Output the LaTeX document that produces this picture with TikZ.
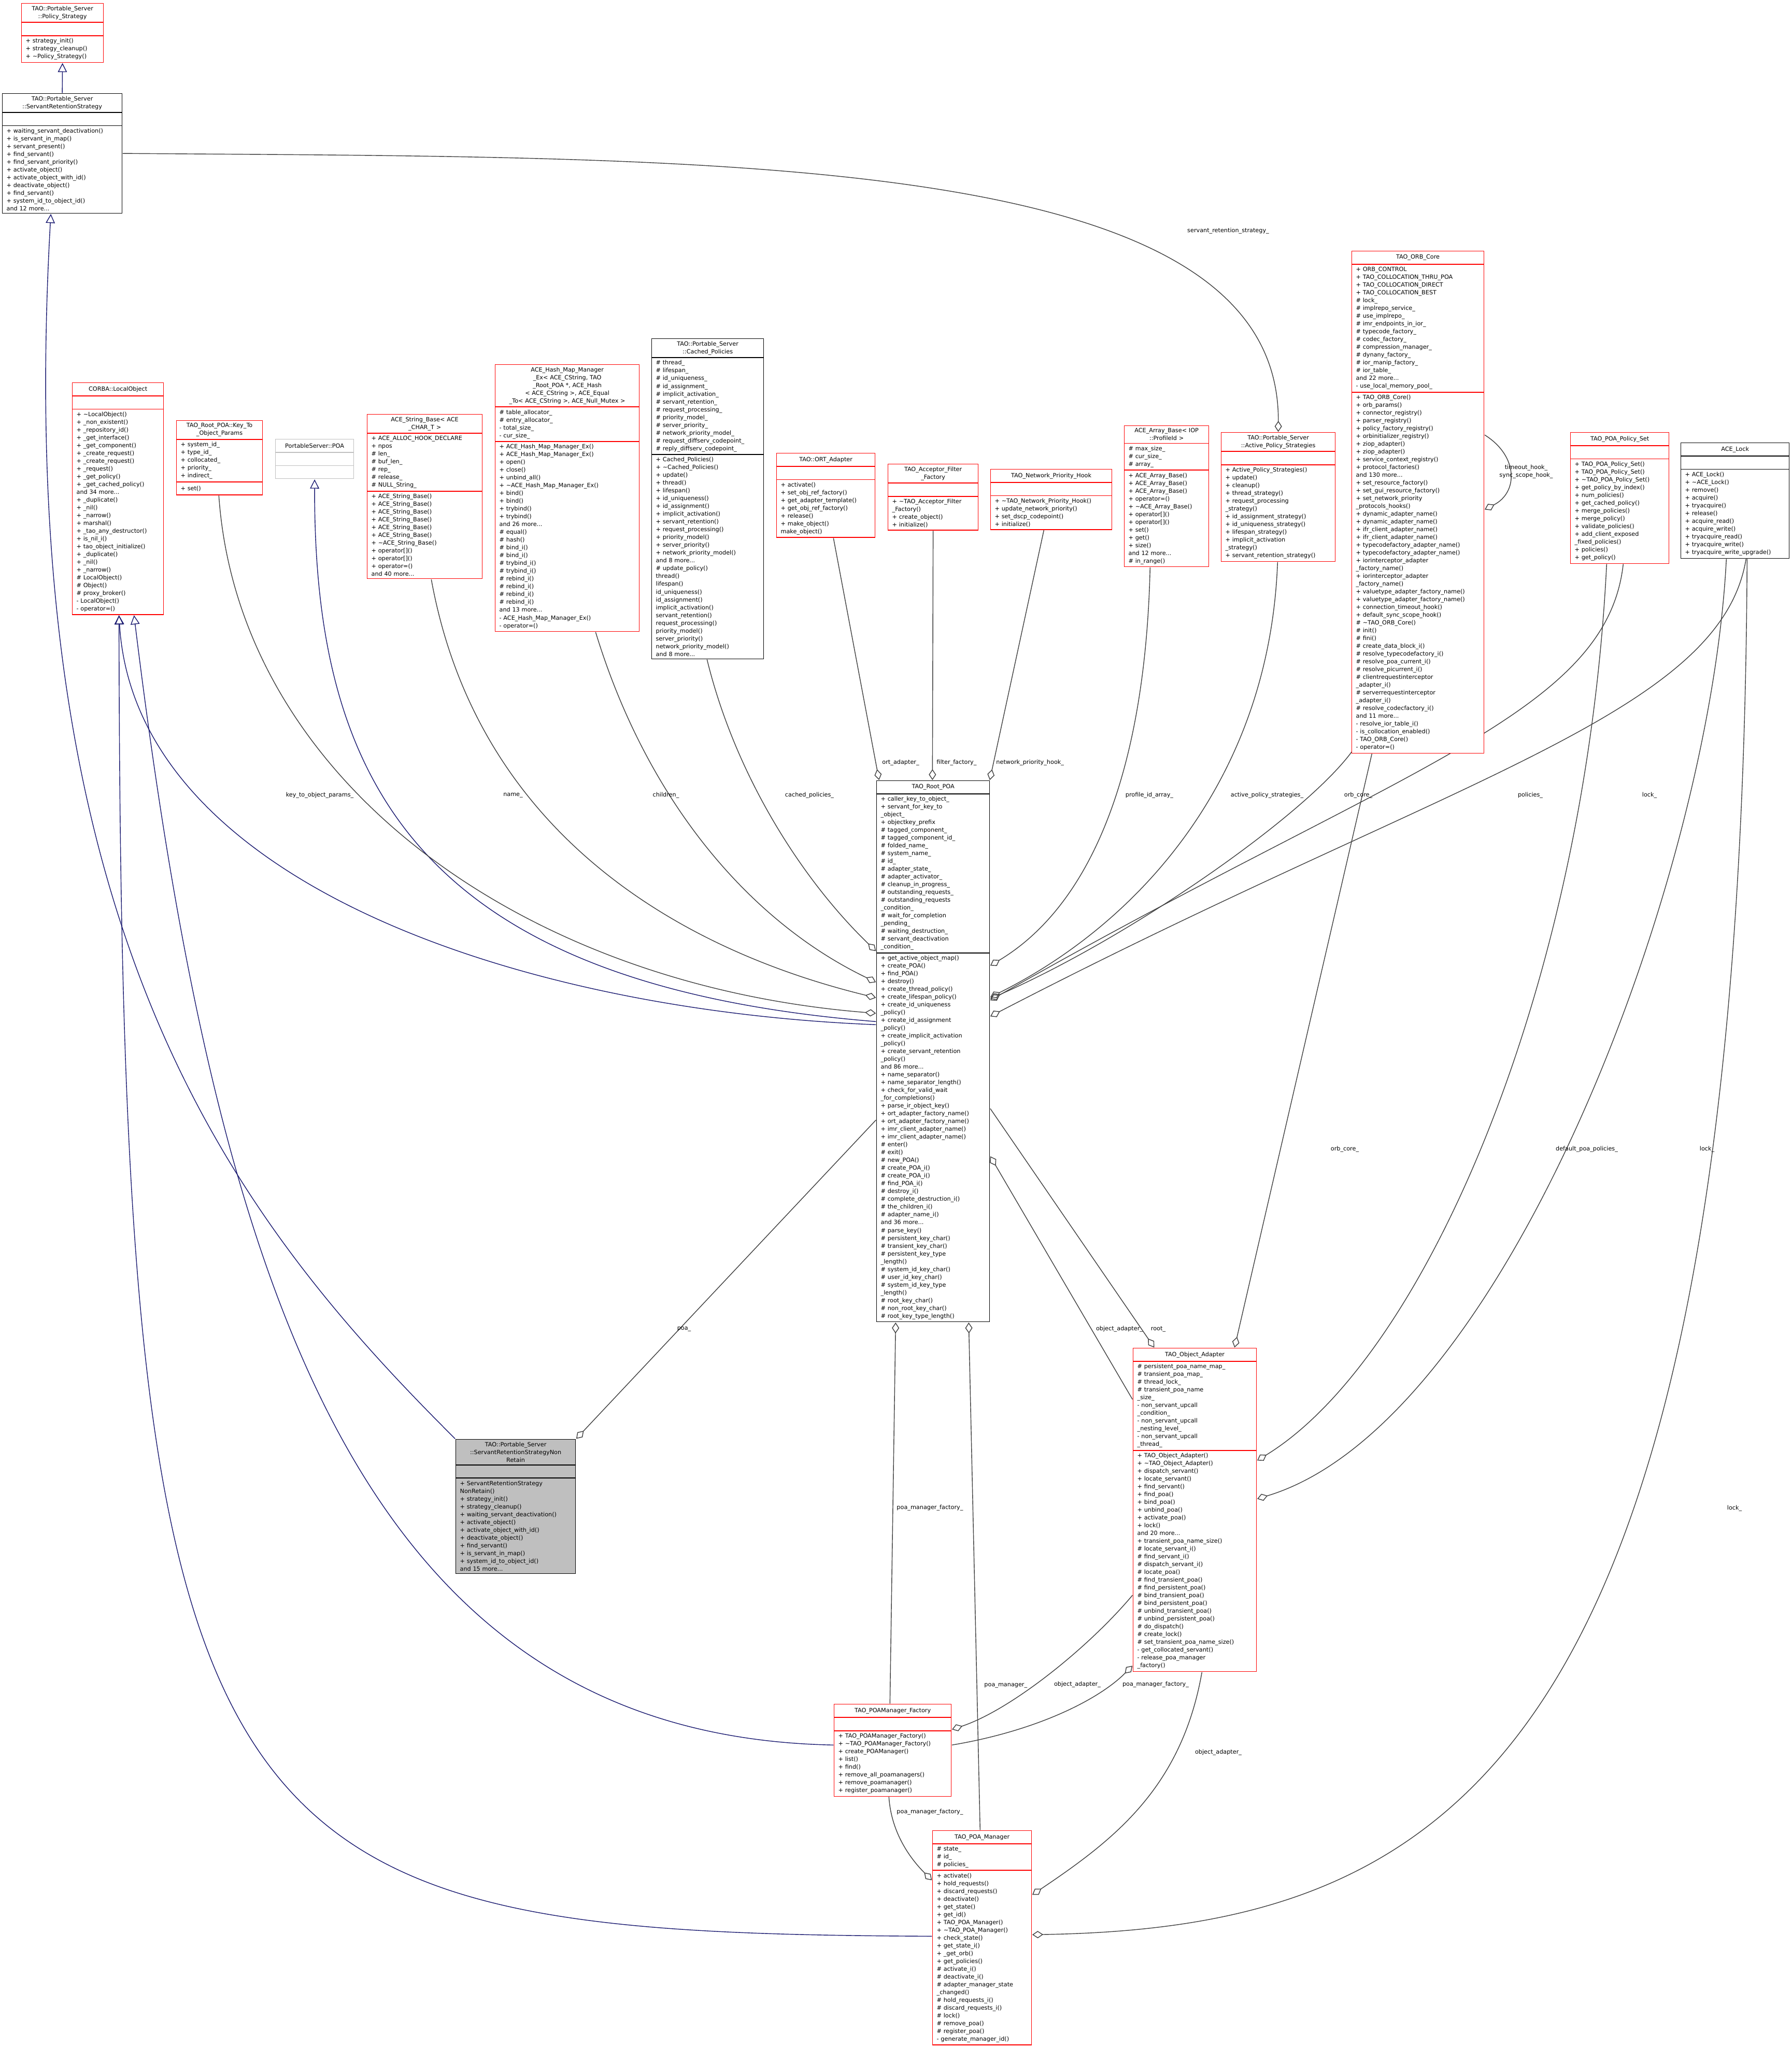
\documentclass[tikz,border=0pt]{standalone}
\usepackage{fontspec}
\newfontfamily\dvs{DejaVu Sans}
\usetikzlibrary{arrows.meta,fit}
\pgfdeclarelayer{bg}
\pgfsetlayers{bg,main}
\catcode`\_=12
\newcommand\tld{\textasciitilde}
\definecolor{navy}{HTML}{191970}
\definecolor{egray}{HTML}{404040}
\definecolor{lgray}{HTML}{BFBFBF}
\tikzset{
  sec/.style={draw, font=\dvs\fontsize{3.2}{4.27}\selectfont, inner xsep=0.08cm, inner ysep=0.05cm, minimum height=0.25cm, align=left, line width=0.35pt},
  inh/.style={draw=navy, line width=0.4pt, -{Triangle[open,length=5pt,width=5pt]}},
  agg/.style={draw=egray, line width=0.4pt, -{Diamond[open,length=6pt,width=4pt]}},
  lbl/.style={font=\dvs\fontsize{3.2}{4.27}\selectfont, inner sep=0.5pt, align=center},
}
\newcommand\umlc[9][white]{%
  \pgfmathsetmacro\tw{#5-0.16}%
  \node[sec,draw=#6,fill=#1,text width=\tw cm,align=center,anchor=north west] (#2t) at (#3,#4) {#7};
  \node[sec,draw=#6,fill=#1,text width=\tw cm,anchor=north west] (#2a) at ([yshift=0.175pt]#2t.south west) {#8};
  \node[sec,draw=#6,fill=#1,text width=\tw cm,anchor=north west] (#2m) at ([yshift=0.175pt]#2a.south west) {#9};
  \node[fit=(#2t)(#2m),inner sep=0pt] (#2) {};
}
\begin{document}
\begin{tikzpicture}
\useasboundingbox (0,0) rectangle (34.57,-39.52);
\begin{pgfonlayer}{bg}
\fill[white] (0,0) rectangle (34.57,-39.52);
\end{pgfonlayer}

\umlc{ps}{0.41}{-0.06}{1.58}{red}{TAO::Portable_Server\\::Policy_Strategy}{}{+ strategy_init()\\+ strategy_cleanup()\\+ \tld Policy_Strategy()}
\umlc{srs}{0.04}{-1.80}{2.31}{black}{TAO::Portable_Server\\::ServantRetentionStrategy}{}{+ waiting_servant_deactivation()\\+ is_servant_in_map()\\+ servant_present()\\+ find_servant()\\+ find_servant_priority()\\+ activate_object()\\+ activate_object_with_id()\\+ deactivate_object()\\+ find_servant()\\+ system_id_to_object_id()\\and 12 more...}
\umlc{lo}{1.39}{-7.38}{1.76}{red}{CORBA::LocalObject}{}{+ \tld LocalObject()\\+ _non_existent()\\+ _repository_id()\\+ _get_interface()\\+ _get_component()\\+ _create_request()\\+ _create_request()\\+ _request()\\+ _get_policy()\\+ _get_cached_policy()\\and 34 more...\\+ _duplicate()\\+ _nil()\\+ _narrow()\\+ marshal()\\+ _tao_any_destructor()\\+ is_nil_i()\\+ tao_object_initialize()\\+ _duplicate()\\+ _nil()\\+ _narrow()\\\# LocalObject()\\\# Object()\\\# proxy_broker()\\- LocalObject()\\- operator=()}
\umlc{kt}{3.40}{-8.11}{1.66}{red}{TAO_Root_POA::Key_To\\_Object_Params}{+ system_id_\\+ type_id_\\+ collocated_\\+ priority_\\+ indirect_}{+ set()}
\umlc{poa}{5.31}{-8.47}{1.51}{lgray}{PortableServer::POA}{}{}
\umlc{str}{7.08}{-7.99}{2.22}{red}{ACE_String_Base< ACE\\_CHAR_T >}{+ ACE_ALLOC_HOOK_DECLARE\\+ npos\\\# len_\\\# buf_len_\\\# rep_\\\# release_\\\# NULL_String_}{+ ACE_String_Base()\\+ ACE_String_Base()\\+ ACE_String_Base()\\+ ACE_String_Base()\\+ ACE_String_Base()\\+ ACE_String_Base()\\+ \tld ACE_String_Base()\\+ operator[]()\\+ operator[]()\\+ operator=()\\and 40 more...}
\umlc{hm}{9.55}{-7.03}{2.78}{red}{ACE_Hash_Map_Manager\\_Ex< ACE_CString, TAO\\_Root_POA *, ACE_Hash\\< ACE_CString >, ACE_Equal\\_To< ACE_CString >, ACE_Null_Mutex >}{\# table_allocator_\\\# entry_allocator_\\- total_size_\\- cur_size_}{+ ACE_Hash_Map_Manager_Ex()\\+ ACE_Hash_Map_Manager_Ex()\\+ open()\\+ close()\\+ unbind_all()\\+ \tld ACE_Hash_Map_Manager_Ex()\\+ bind()\\+ bind()\\+ trybind()\\+ trybind()\\and 26 more...\\\# equal()\\\# hash()\\\# bind_i()\\\# bind_i()\\\# trybind_i()\\\# trybind_i()\\\# rebind_i()\\\# rebind_i()\\\# rebind_i()\\\# rebind_i()\\and 13 more...\\- ACE_Hash_Map_Manager_Ex()\\- operator=()}
\umlc{cp}{12.57}{-6.53}{2.16}{black}{TAO::Portable_Server\\::Cached_Policies}{\# thread_\\\# lifespan_\\\# id_uniqueness_\\\# id_assignment_\\\# implicit_activation_\\\# servant_retention_\\\# request_processing_\\\# priority_model_\\\# server_priority_\\\# network_priority_model_\\\# request_diffserv_codepoint_\\\# reply_diffserv_codepoint_}{+ Cached_Policies()\\+ \tld Cached_Policies()\\+ update()\\+ thread()\\+ lifespan()\\+ id_uniqueness()\\+ id_assignment()\\+ implicit_activation()\\+ servant_retention()\\+ request_processing()\\+ priority_model()\\+ server_priority()\\+ network_priority_model()\\and 8 more...\\\# update_policy()\\* thread()\\* lifespan()\\* id_uniqueness()\\* id_assignment()\\* implicit_activation()\\* servant_retention()\\* request_processing()\\* priority_model()\\* server_priority()\\* network_priority_model()\\and 8 more...}
\umlc{ort}{14.98}{-8.74}{1.90}{red}{TAO::ORT_Adapter}{}{+ activate()\\+ set_obj_ref_factory()\\+ get_adapter_template()\\+ get_obj_ref_factory()\\+ release()\\+ make_object()\\* make_object()}
\umlc{af}{17.13}{-8.95}{1.74}{red}{TAO_Acceptor_Filter\\_Factory}{}{+ \tld TAO_Acceptor_Filter\\_Factory()\\+ create_object()\\+ initialize()}
\umlc{nph}{19.11}{-9.05}{2.34}{red}{TAO_Network_Priority_Hook}{}{+ \tld TAO_Network_Priority_Hook()\\+ update_network_priority()\\+ set_dscp_codepoint()\\+ initialize()}
\umlc{ab}{21.69}{-8.21}{1.63}{red}{ACE_Array_Base< IOP\\::ProfileId >}{\# max_size_\\\# cur_size_\\\# array_}{+ ACE_Array_Base()\\+ ACE_Array_Base()\\+ ACE_Array_Base()\\+ operator=()\\+ \tld ACE_Array_Base()\\+ operator[]()\\+ operator[]()\\+ set()\\+ get()\\+ size()\\and 12 more...\\\# in_range()}
\umlc{aps}{23.56}{-8.34}{2.20}{red}{TAO::Portable_Server\\::Active_Policy_Strategies}{}{+ Active_Policy_Strategies()\\+ update()\\+ cleanup()\\+ thread_strategy()\\+ request_processing\\_strategy()\\+ id_assignment_strategy()\\+ id_uniqueness_strategy()\\+ lifespan_strategy()\\+ implicit_activation\\_strategy()\\+ servant_retention_strategy()}
\umlc{oc}{26.08}{-4.84}{2.55}{red}{TAO_ORB_Core}{+ ORB_CONTROL\\+ TAO_COLLOCATION_THRU_POA\\+ TAO_COLLOCATION_DIRECT\\+ TAO_COLLOCATION_BEST\\\# lock_\\\# implrepo_service_\\\# use_implrepo_\\\# imr_endpoints_in_ior_\\\# typecode_factory_\\\# codec_factory_\\\# compression_manager_\\\# dynany_factory_\\\# ior_manip_factory_\\\# ior_table_\\and 22 more...\\- use_local_memory_pool_}{+ TAO_ORB_Core()\\+ orb_params()\\+ connector_registry()\\+ parser_registry()\\+ policy_factory_registry()\\+ orbinitializer_registry()\\+ ziop_adapter()\\+ ziop_adapter()\\+ service_context_registry()\\+ protocol_factories()\\and 130 more...\\+ set_resource_factory()\\+ set_gui_resource_factory()\\+ set_network_priority\\_protocols_hooks()\\+ dynamic_adapter_name()\\+ dynamic_adapter_name()\\+ ifr_client_adapter_name()\\+ ifr_client_adapter_name()\\+ typecodefactory_adapter_name()\\+ typecodefactory_adapter_name()\\+ iorinterceptor_adapter\\_factory_name()\\+ iorinterceptor_adapter\\_factory_name()\\+ valuetype_adapter_factory_name()\\+ valuetype_adapter_factory_name()\\+ connection_timeout_hook()\\+ default_sync_scope_hook()\\\# \tld TAO_ORB_Core()\\\# init()\\\# fini()\\\# create_data_block_i()\\\# resolve_typecodefactory_i()\\\# resolve_poa_current_i()\\\# resolve_picurrent_i()\\\# clientrequestinterceptor\\_adapter_i()\\\# serverrequestinterceptor\\_adapter_i()\\\# resolve_codecfactory_i()\\and 11 more...\\- resolve_ior_table_i()\\- is_collocation_enabled()\\- TAO_ORB_Core()\\- operator=()}
\umlc{pps}{30.30}{-8.34}{1.90}{red}{TAO_POA_Policy_Set}{}{+ TAO_POA_Policy_Set()\\+ TAO_POA_Policy_Set()\\+ \tld TAO_POA_Policy_Set()\\+ get_policy_by_index()\\+ num_policies()\\+ get_cached_policy()\\+ merge_policies()\\+ merge_policy()\\+ validate_policies()\\+ add_client_exposed\\_fixed_policies()\\+ policies()\\+ get_policy()}
\umlc{al}{32.43}{-8.54}{2.09}{black}{ACE_Lock}{}{+ ACE_Lock()\\+ \tld ACE_Lock()\\+ remove()\\+ acquire()\\+ tryacquire()\\+ release()\\+ acquire_read()\\+ acquire_write()\\+ tryacquire_read()\\+ tryacquire_write()\\+ tryacquire_write_upgrade()}
\umlc{rp}{16.91}{-15.06}{2.18}{black}{TAO_Root_POA}{+ caller_key_to_object_\\+ servant_for_key_to\\_object_\\+ objectkey_prefix\\\# tagged_component_\\\# tagged_component_id_\\\# folded_name_\\\# system_name_\\\# id_\\\# adapter_state_\\\# adapter_activator_\\\# cleanup_in_progress_\\\# outstanding_requests_\\\# outstanding_requests\\_condition_\\\# wait_for_completion\\_pending_\\\# waiting_destruction_\\\# servant_deactivation\\_condition_}{+ get_active_object_map()\\+ create_POA()\\+ find_POA()\\+ destroy()\\+ create_thread_policy()\\+ create_lifespan_policy()\\+ create_id_uniqueness\\_policy()\\+ create_id_assignment\\_policy()\\+ create_implicit_activation\\_policy()\\+ create_servant_retention\\_policy()\\and 86 more...\\+ name_separator()\\+ name_separator_length()\\+ check_for_valid_wait\\_for_completions()\\+ parse_ir_object_key()\\+ ort_adapter_factory_name()\\+ ort_adapter_factory_name()\\+ imr_client_adapter_name()\\+ imr_client_adapter_name()\\\# enter()\\\# exit()\\\# new_POA()\\\# create_POA_i()\\\# create_POA_i()\\\# find_POA_i()\\\# destroy_i()\\\# complete_destruction_i()\\\# the_children_i()\\\# adapter_name_i()\\and 36 more...\\\# parse_key()\\\# persistent_key_char()\\\# transient_key_char()\\\# persistent_key_type\\_length()\\\# system_id_key_char()\\\# user_id_key_char()\\\# system_id_key_type\\_length()\\\# root_key_char()\\\# non_root_key_char()\\\# root_key_type_length()}
\umlc{oa}{21.86}{-26.01}{2.38}{red}{TAO_Object_Adapter}{\# persistent_poa_name_map_\\\# transient_poa_map_\\\# thread_lock_\\\# transient_poa_name\\_size_\\- non_servant_upcall\\_condition_\\- non_servant_upcall\\_nesting_level_\\- non_servant_upcall\\_thread_}{+ TAO_Object_Adapter()\\+ \tld TAO_Object_Adapter()\\+ dispatch_servant()\\+ locate_servant()\\+ find_servant()\\+ find_poa()\\+ bind_poa()\\+ unbind_poa()\\+ activate_poa()\\+ lock()\\and 20 more...\\+ transient_poa_name_size()\\\# locate_servant_i()\\\# find_servant_i()\\\# dispatch_servant_i()\\\# locate_poa()\\\# find_transient_poa()\\\# find_persistent_poa()\\\# bind_transient_poa()\\\# bind_persistent_poa()\\\# unbind_transient_poa()\\\# unbind_persistent_poa()\\\# do_dispatch()\\\# create_lock()\\\# set_transient_poa_name_size()\\- get_collocated_servant()\\- release_poa_manager\\_factory()}
\umlc[lgray]{nr}{8.79}{-27.77}{2.31}{black}{TAO::Portable_Server\\::ServantRetentionStrategyNon\\Retain}{}{+ ServantRetentionStrategy\\NonRetain()\\+ strategy_init()\\+ strategy_cleanup()\\+ waiting_servant_deactivation()\\+ activate_object()\\+ activate_object_with_id()\\+ deactivate_object()\\+ find_servant()\\+ is_servant_in_map()\\+ system_id_to_object_id()\\and 15 more...}
\umlc{pmf}{16.09}{-32.88}{2.26}{red}{TAO_POAManager_Factory}{}{+ TAO_POAManager_Factory()\\+ \tld TAO_POAManager_Factory()\\+ create_POAManager()\\+ list()\\+ find()\\+ remove_all_poamanagers()\\+ remove_poamanager()\\+ register_poamanager()}
\umlc{pm}{17.99}{-35.32}{1.91}{red}{TAO_POA_Manager}{\# state_\\\# id_\\\# policies_}{+ activate()\\+ hold_requests()\\+ discard_requests()\\+ deactivate()\\+ get_state()\\+ get_id()\\+ TAO_POA_Manager()\\+ \tld TAO_POA_Manager()\\+ check_state()\\+ get_state_i()\\+ _get_orb()\\+ get_policies()\\\# activate_i()\\\# deactivate_i()\\\# adapter_manager_state\\_changed()\\\# hold_requests_i()\\\# discard_requests_i()\\\# lock()\\\# remove_poa()\\\# register_poa()\\- generate_manager_id()}

\begin{pgfonlayer}{bg}
% inheritance
\draw[inh] (srs.north) -- (ps.south);
\draw[inh] (nr.north west) .. controls (4.5,-23.5) and (0.2,-18) .. ([xshift=-0.22cm]srs.south);
\draw[inh] ([yshift=-4.72cm]rp.north west) .. controls (10,-19.5) and (2.6,-17) .. ([xshift=0.02cm]lo.south);
\draw[inh] ([yshift=-0.80cm]pmf.north west) .. controls (7,-33.5) and (4.2,-25) .. ([xshift=0.31cm]lo.south);
\draw[inh] ([yshift=-2.05cm]pm.north west) .. controls (4,-37.3) and (2.33,-36) .. ([xshift=0.02cm]lo.south);
\draw[inh] ([yshift=-4.66cm]rp.north west) .. controls (8,-19) and (6.06,-15) .. (poa.south);

% aggregation
\draw[agg] (srs.east) .. controls (14,-3.05) and (24.7,-2.9) .. (aps.north);
\draw[agg] ([xshift=0.83cm]kt.south west) .. controls (4.6,-15) and (10,-19) .. ([yshift=-4.5cm]rp.north west);
\draw[agg] ([xshift=1.25cm]str.south west) .. controls (9.2,-16) and (13,-18.3) .. ([yshift=-4.2cm]rp.north west);
\draw[agg] ([xshift=1.95cm]hm.south west) .. controls (12.5,-15.5) and (14.5,-17.8) .. ([yshift=-3.9cm]rp.north west);
\draw[agg] ([xshift=1.08cm]cp.south west) .. controls (14.2,-15) and (15.5,-17) .. ([yshift=-3.3cm]rp.north west);
\draw[agg] ([xshift=1.11cm]ort.south west) -- ([xshift=0.06cm]rp.north west);
\draw[agg] (af.south) -- ([xshift=1.09cm]rp.north west);
\draw[agg] ([xshift=1.04cm]nph.south west) -- ([xshift=-0.01cm]rp.north east);
\draw[agg] ([xshift=0.51cm]ab.south west) .. controls (22.1,-15) and (21,-17.5) .. ([yshift=-3.58cm]rp.north east);
\draw[agg] ([xshift=1.1cm]aps.south west) .. controls (24.5,-15) and (22,-17.8) .. ([yshift=-4.19cm]rp.north east);
\draw[agg] ([xshift=0.12cm,yshift=0.2cm]oc.south west) .. controls (25.5,-15.5) and (22,-18) .. ([yshift=-4.22cm]rp.north east);
\draw[agg] ([xshift=1.03cm]pps.south west) .. controls (31,-13.8) and (27,-14.8) .. ([yshift=-4.25cm]rp.north east);
\draw[agg] ([xshift=1.27cm]al.south west) .. controls (33.2,-13.8) and (28,-15) .. ([yshift=-4.56cm]rp.north east);
\draw[agg] ([yshift=-3.56cm]oc.north east) .. controls (29.3,-8.8) and (29.3,-9.5) .. ([yshift=-5.0cm]oc.north east);
\draw[agg] ([xshift=0.4cm]oc.south west) -- ([xshift=1.97cm]oa.north west);
\draw[agg] ([xshift=0.71cm]pps.south west) .. controls (30.6,-19) and (27.5,-26.2) .. ([yshift=-2.18cm]oa.north east);
\draw[agg] ([xshift=0.89cm]al.south west) .. controls (33,-17) and (29,-27.5) .. ([yshift=-2.92cm]oa.north east);
\draw[agg] ([xshift=1.29cm]al.south west) .. controls (33.6,-34) and (28,-37.2) .. ([yshift=-2.02cm]pm.north east);
\draw[agg] ([yshift=-6.56cm]rp.north west) -- (nr.north east);
\draw[agg] ([yshift=-1.0cm]oa.north west) -- ([yshift=-7.26cm]rp.north east);
\draw[agg] ([yshift=-6.34cm]rp.north east) -- ([xshift=0.42cm]oa.north west);
\draw[agg] ([xshift=1.09cm]pmf.north west) -- ([xshift=0.38cm]rp.south west);
\draw[agg] ([xshift=0.93cm]pm.north west) -- ([xshift=1.79cm]rp.south west);
\draw[agg] ([yshift=-4.78cm]oa.north west) .. controls (21,-31.8) and (19.5,-33) .. ([yshift=-0.50cm]pmf.north east);
\draw[agg] ([yshift=-0.80cm]pmf.north east) .. controls (20,-33.4) and (21.2,-32.8) .. ([yshift=-6.14cm]oa.north west);
\draw[agg] ([xshift=1.07cm]pmf.south west) .. controls (17.2,-35.4) and (17.6,-35.9) .. ([yshift=-0.97cm]pm.north west);
\draw[agg] ([xshift=1.34cm]oa.south west) .. controls (22.8,-34.5) and (21.5,-35.5) .. ([yshift=-1.25cm]pm.north east);
\end{pgfonlayer}

\node[lbl] (l1) at (23.7,-4.46) {servant_retention_strategy_};
\node[lbl] (l2) at (6.17,-15.35) {key_to_object_params_};
\node[lbl] (l3) at (9.9,-15.35) {name_};
\node[lbl] (l4) at (12.85,-15.35) {children_};
\node[lbl] (l5) at (15.62,-15.35) {cached_policies_};
\node[lbl,anchor=west] (l6) at (17.0,-14.72) {ort_adapter_};
\node[lbl,anchor=west] (l7) at (18.05,-14.72) {filter_factory_};
\node[lbl,anchor=west] (l8) at (19.2,-14.72) {network_priority_hook_};
\node[lbl] (l9) at (22.18,-15.35) {profile_id_array_};
\node[lbl] (l10) at (24.45,-15.35) {active_policy_strategies_};
\node[lbl] (l11) at (26.21,-15.35) {orb_core_};
\node[lbl] (l12) at (29.53,-15.35) {policies_};
\node[lbl] (l13) at (31.83,-15.35) {lock_};
\node[lbl] (l14) at (29.45,-9.1) {timeout_hook_\\sync_scope_hook_};
\node[lbl] (l15) at (25.95,-22.18) {orb_core_};
\node[lbl] (l16) at (30.62,-22.18) {default_poa_policies_};
\node[lbl] (l17) at (32.94,-22.18) {lock_};
\node[lbl] (l18) at (33.47,-29.11) {lock_};
\node[lbl] (l19) at (13.2,-25.65) {poa_};
\node[lbl] (l20) at (21.6,-25.65) {object_adapter_};
\node[lbl] (l21) at (22.35,-25.65) {root_};
\node[lbl,anchor=west] (l22) at (17.28,-29.1) {poa_manager_factory_};
\node[lbl,anchor=west] (l23) at (18.97,-32.53) {poa_manager_};
\node[lbl] (l24) at (20.79,-32.51) {object_adapter_};
\node[lbl] (l25) at (22.3,-32.51) {poa_manager_factory_};
\node[lbl,anchor=west] (l26) at (17.28,-34.97) {poa_manager_factory_};
\node[lbl] (l27) at (23.51,-33.82) {object_adapter_};
\end{tikzpicture}
\end{document}
